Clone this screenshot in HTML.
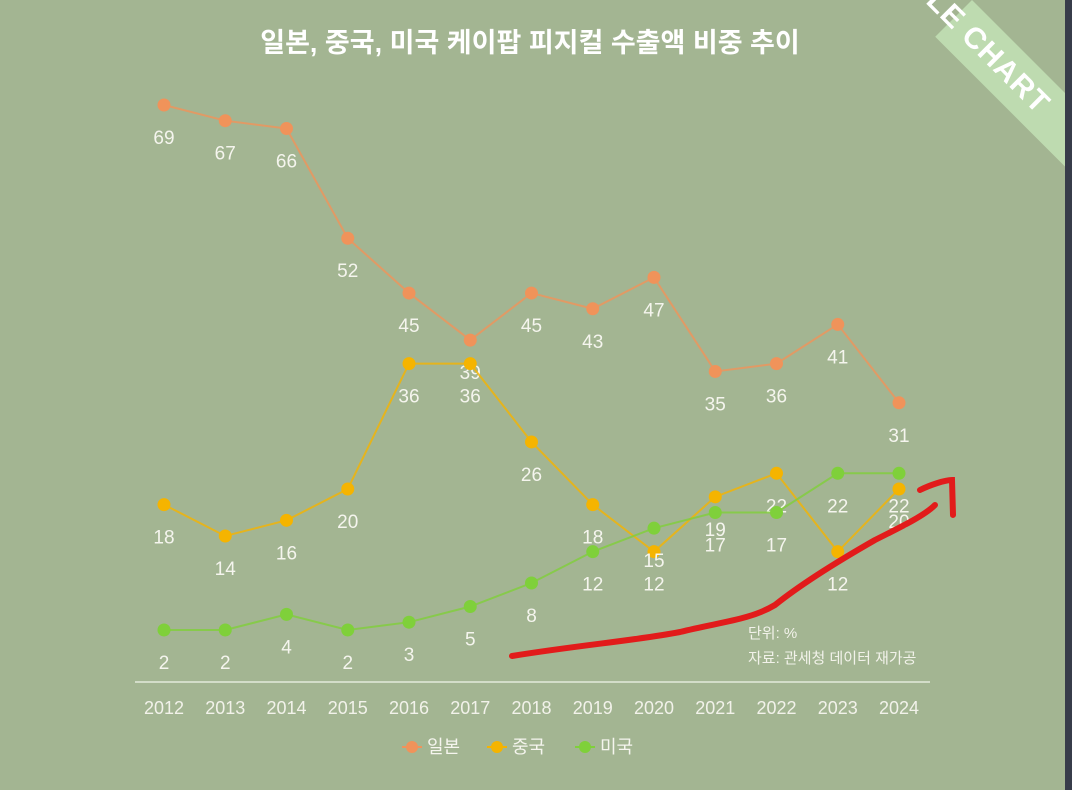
<!DOCTYPE html>
<html><head><meta charset="utf-8">
<style>
html,body{margin:0;padding:0;width:1072px;height:790px;overflow:hidden;background:#a3b592;font-family:"Liberation Sans","Noto Sans CJK KR",sans-serif}
#strip{position:absolute;left:1065px;top:0;width:7px;height:790px;background:#373c4a}
#ribbon{position:absolute;left:972px;top:0;width:400px;height:52px;background:#bedbb0;transform-origin:0 0;transform:rotate(45deg);}
#ribbon span{position:absolute;right:272px;top:0;white-space:nowrap;color:#fff;font-size:30px;font-weight:bold;line-height:52px;letter-spacing:1px}
svg{position:absolute;left:0;top:0}
</style></head><body>
<div id="ribbon"><span>SAMPLE CHART</span></div>
<div id="strip"></div>
<svg id="chart" width="1072" height="790">
<text x="530" y="52" text-anchor="middle" font-size="27" font-weight="bold" fill="#fff">일본, 중국, 미국 케이팝 피지컬 수출액 비중 추이</text>
<line x1="135" y1="682" x2="930" y2="682" stroke="#d3ddc9" stroke-width="2"/>
<text x="748" y="638" font-size="15" fill="#f2f2ea">단위: %</text>
<text x="748" y="663" font-size="15" fill="#f2f2ea">자료: 관세청 데이터 재가공</text>
<g id="xt"></g><g id="series"></g><g id="legend"></g>
<path d="M512 656 C580 645 640 640 680 632 C720 622 750 620 775 605 C800 585 840 560 875 540 C905 525 925 515 935 505 M920 490 C930 485 945 480 952 480 L953 515" fill="none" stroke="#e21b1b" stroke-width="6" stroke-linecap="round"/>
</svg>
<script>
const years=[2012,2013,2014,2015,2016,2017,2018,2019,2020,2021,2022,2023,2024];
const japan=[69,67,66,52,45,39,45,43,47,35,36,41,31];
const china=[18,14,16,20,36,36,26,18,12,19,22,12,20];
const usa=[2,2,4,2,3,5,8,12,15,17,17,22,22];
const names=['일본','중국','미국'];
const NS='http://www.w3.org/2000/svg';
const xs=i=>164+i*61.25;
const ys=v=>645.7-v*7.836;
function mk(t,a,p){const e=document.createElementNS(NS,t);for(const k in a)e.setAttribute(k,a[k]);p.appendChild(e);return e;}
const xt=document.getElementById('xt');
years.forEach((y,i)=>{const t=mk('text',{x:xs(i),y:714,'text-anchor':'middle','font-size':18,fill:'#f2f2ea'},xt);t.textContent=y;

});
const sg=document.getElementById('series');
const defs=[[japan,'#f0935a','japan'],[china,'#f5b400','china'],[usa,'#7fd03a','usa']];
defs.forEach(([d,c,n])=>{
const g=mk('g',{},sg);


const pl=mk('polyline',{points:d.map((v,i)=>xs(i)+','+ys(v)).join(' '),fill:'none',stroke:c,'stroke-width':2,'stroke-opacity':0.8},g);


d.forEach((v,i)=>{const p=mk('circle',{cx:xs(i),cy:ys(v),r:6.5,fill:c},g);


const t=mk('text',{x:xs(i),y:ys(v)+39,'text-anchor':'middle','font-size':19,fill:'#f5f5ee'},g);t.textContent=v;

});
});
const lg=document.getElementById('legend');
const lx=[412,497,585];
defs.forEach(([d,c,n],i)=>{
const g=mk('g',{},lg);


mk('line',{x1:lx[i]-10,y1:747,x2:lx[i]+10,y2:747,stroke:c,'stroke-width':2},g);
mk('circle',{cx:lx[i],cy:747,r:6,fill:c},g);
const t=mk('text',{x:lx[i]+15,y:753,'font-size':18,fill:'#f5f5ee'},g);t.textContent=names[i];});
</script>
</body></html>
